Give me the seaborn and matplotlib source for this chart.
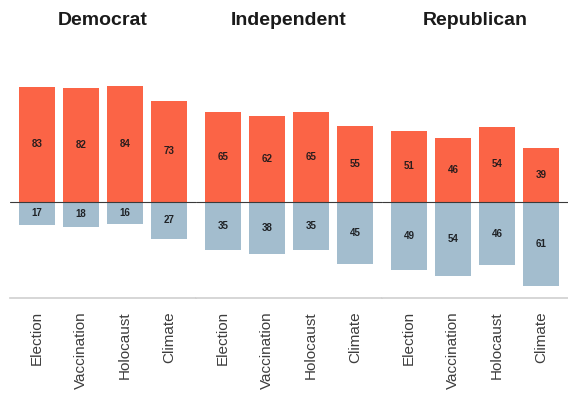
import matplotlib
matplotlib.use("Agg")
import matplotlib.pyplot as plt
import seaborn as sns
import pandas as pd

# Share of respondents by party who agree / disagree on each topic
parties = ["Democrat", "Independent", "Republican"]
topics = ["Election", "Vaccination", "Holocaust", "Climate"]
agree = {
    "Democrat": [83, 82, 84, 73],
    "Independent": [65, 62, 65, 55],
    "Republican": [51, 46, 54, 39],
}
disagree = {
    "Democrat": [17, 18, 16, 27],
    "Independent": [35, 38, 35, 45],
    "Republican": [49, 54, 46, 61],
}

agree_color = "#FB6446"
disagree_color = "#A3BDCE"

sns.set_theme(style="white")
plt.rcParams["font.family"] = ["Liberation Sans", "DejaVu Sans"]

fig, axes = plt.subplots(1, 3, figsize=(5.68, 3.95), dpi=100, sharey=True)
fig.subplots_adjust(left=10 / 568, right=1.0, bottom=97 / 395, top=315 / 395, wspace=0)

for ax, party in zip(axes, parties):
    df = pd.DataFrame({
        "topic": topics,
        "agree": agree[party],
        "disagree": [-v for v in disagree[party]],
    })
    sns.barplot(data=df, x="topic", y="agree", order=topics, color=agree_color,
                saturation=1, width=0.82, ax=ax, linewidth=0)
    sns.barplot(data=df, x="topic", y="disagree", order=topics, color=disagree_color,
                saturation=1, width=0.82, ax=ax, linewidth=0)

    # value labels at the middle of each bar
    for i, (a, d) in enumerate(zip(agree[party], disagree[party])):
        ax.text(i, a / 2, str(a), ha="center", va="center", fontsize=7,
                fontweight="bold", color="#2a1d1d")
        ax.text(i, -d / 2, str(d), ha="center", va="center", fontsize=7,
                fontweight="bold", color="#1f2226")

    ax.axhline(0, color="#3a3a3a", lw=0.8, zorder=5)
    ax.set_xlim(-0.61, 3.61)
    ax.set_ylim(-69.6, 88)
    ax.set_xlabel("")
    ax.set_ylabel("")
    ax.set_yticks([])
    ax.tick_params(axis="x", length=0, pad=9.5)
    for lbl in ax.get_xticklabels():
        lbl.set_rotation(90)
        lbl.set_fontsize(11)
        lbl.set_color("#3d3d3d")
        lbl.set_va("top")
    for side in ["top", "left", "right"]:
        ax.spines[side].set_visible(False)
    ax.spines["bottom"].set_color("#cfcfcf")
    ax.spines["bottom"].set_linewidth(1.2)
    ax.spines["bottom"].set_bounds(-0.6, 3.6)
    ax.set_title(party, fontsize=14, fontweight="bold", color="#1a1a1a", pad=39.6)

fig.savefig("out.png", dpi=100)
